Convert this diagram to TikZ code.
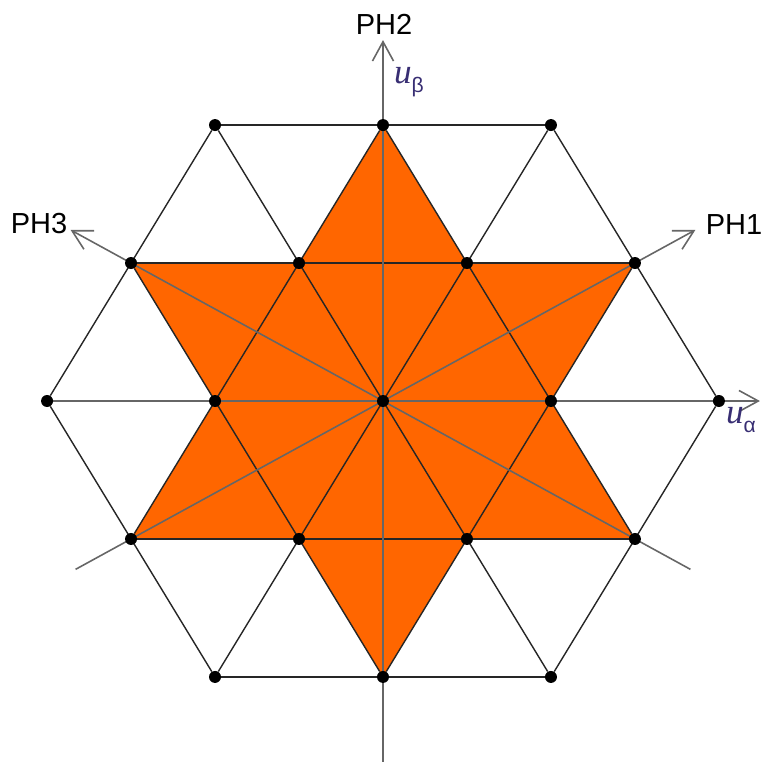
\documentclass[tikz,border=0pt]{standalone}
\usepackage{fontspec}
\setmainfont{Liberation Sans}
\newfontfamily\serifu{Liberation Serif}
\usetikzlibrary{arrows.meta,backgrounds}
\definecolor{starorange}{HTML}{FF6600}
\definecolor{uvec}{rgb}{0.22,0.18,0.45}

\begin{document}
\begin{tikzpicture}[x=0.02cm, y=0.02cm,
    every node/.style={font=\fontsize{16.5}{18}\selectfont},
    dot/.style={circle, fill=black, inner sep=0pt, minimum size=2.4mm},
    grid/.style={draw=black!85, line width=0.8pt},
    axis/.style={draw=black!60, line width=0.9pt},
    tip/.style={-{Straight Barb[length=11pt,width=12pt]}},
    vec/.style={text=uvec, font=\fontsize{20}{22}\selectfont},
]
\useasboundingbox (-383,-361) rectangle (379,401);

% =====================================================================
% Lattice points and axis ends (skewed lattice frame)
% =====================================================================
\begin{scope}[x={(3.36cm,0cm)}, y={(1.68cm,2.76cm)}]
\foreach \j in {-2,...,2} {
  \pgfmathtruncatemacro\ilo{max(-2,-2-\j)}
  \pgfmathtruncatemacro\ihi{min(2,2-\j)}
  \foreach \i in {\ilo,...,\ihi}
    \node[dot] (p\i v\j) at (\i,\j) {};
}
% free ends of the phase axes
\coordinate (ph1end) at (-1.22,-1.22);
\coordinate (ph1tip) at (1.24,1.24);
\coordinate (ph3end) at (2.44,-1.22);
\coordinate (ph3tip) at (-2.48,1.24);
\coordinate (ph2end) at (1.308,-2.616);
\coordinate (ph2tip) at (-1.308,2.616);
\coordinate (uatip) at (2.244,0);
\end{scope}

\begin{scope}[on background layer]
% Hexagram
\fill[starorange] (p-1v2.center) -- (p0v1.center) -- (p1v1.center) -- (p1v0.center)
    -- (p2v-1.center) -- (p1v-1.center) -- (p1v-2.center) -- (p0v-1.center)
    -- (p-1v-1.center) -- (p-1v0.center) -- (p-2v1.center) -- (p-1v1.center) -- cycle;

% Triangular grid lines
\foreach \a/\b in {p-2v2/p0v2, p-2v1/p1v1, p-2v0/p2v0, p-1v-1/p2v-1, p0v-2/p2v-2,
                   p-2v0/p-2v2, p-1v-1/p-1v2, p0v-2/p0v2, p1v-2/p1v1, p2v-2/p2v0,
                   p0v-2/p-2v0, p1v-2/p-2v1, p2v-2/p-2v2, p2v-1/p-1v2, p2v0/p0v2}
  \draw[grid] (\a) -- (\b);

% Axes
\draw[axis, tip] (ph1end) -- (ph1tip);
\draw[axis, tip] (ph3end) -- (ph3tip);
\draw[axis, tip] (ph2end) -- (ph2tip);
\draw[axis, tip] (p-2v0) -- (uatip);
\end{scope}

% Labels
\node (ph2lbl) at (1,377) {PH2};
\node (ph1lbl) at (351,176) {PH1};
\node (ph3lbl) at (-344,177) {PH3};
\node[vec] (ubeta) at (26,319) {{\serifu\itshape u}\raisebox{-0.5ex}{\fontsize{12}{14}\selectfont β}};
\node[vec] (ualpha) at (358,-19) {{\serifu\itshape u}\raisebox{-0.5ex}{\fontsize{12}{14}\selectfont α}};

\end{tikzpicture}
\end{document}
